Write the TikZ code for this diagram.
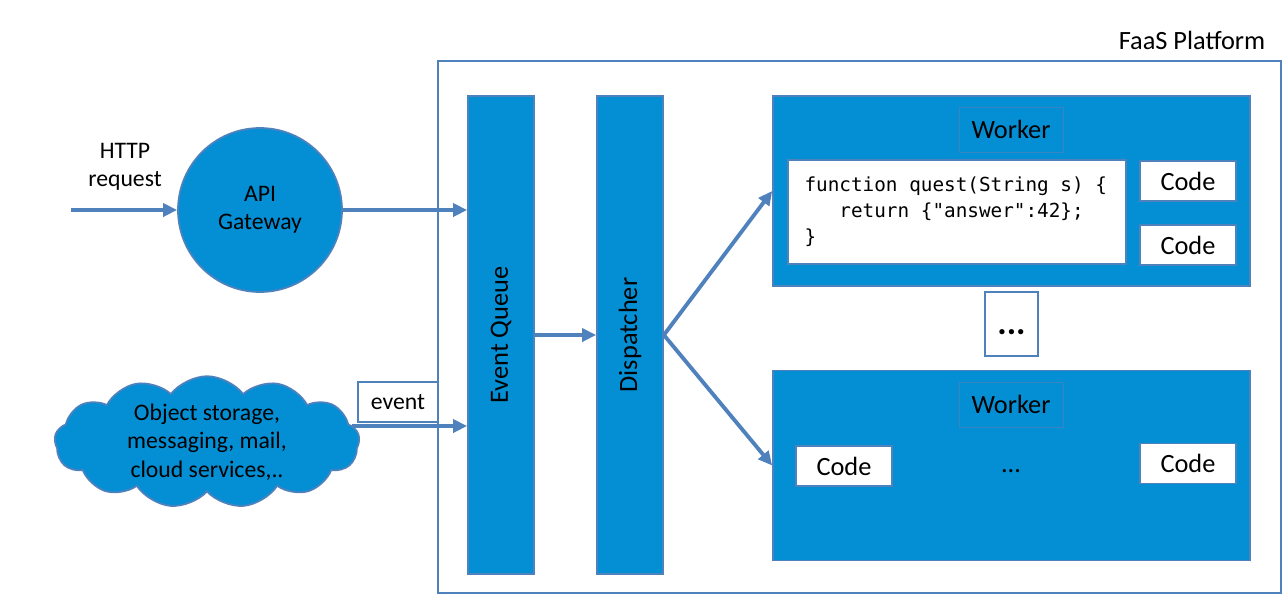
\documentclass[tikz,border=0pt]{standalone}
\usepackage{fontspec}
\setmainfont{Carlito}
\newfontfamily\codefont{DejaVu Sans Mono}
\newcommand\codesp{\hspace*{0.602em}}
\usepackage{tikz}
\usetikzlibrary{shapes.symbols,arrows.meta}

\definecolor{faasblue}{RGB}{4,143,212}
\definecolor{faasline}{RGB}{79,129,189}

\begin{document}
\begin{tikzpicture}[x=0.02cm,y=-0.02cm,
	>={Triangle[length=0.28cm,width=0.26cm]},
	every node/.style={font=\fontsize{13.5}{16.2}\selectfont},
	bluebox/.style={draw=faasline,fill=faasblue,line width=1pt,inner sep=0pt},
	whitebox/.style={draw=faasline,fill=white,line width=1pt,inner sep=0pt},
	bar/.style={bluebox,minimum width=1.32cm,minimum height=9.56cm,font=\fontsize{15}{18}\selectfont},
	worker/.style={bluebox,minimum width=9.54cm,minimum height=3.8cm},
	workerlabel/.style={draw=faasline!70!faasblue,line width=0.5pt,minimum width=2.08cm,minimum height=0.9cm,font=\fontsize{15}{18}\selectfont},
	code/.style={whitebox,minimum width=1.92cm,minimum height=0.8cm,font=\fontsize{15}{18}\selectfont},
	flow/.style={draw=faasline,line width=2.2pt,->}]
	\useasboundingbox (0,0) rectangle (1288,600);
	% platform frame
	\node[draw=faasline,line width=1pt,minimum width=16.86cm,minimum height=10.64cm] (faas) at (859.5,327) {};
	\node[font=\fontsize{15}{18}\selectfont] (faaslabel) at (1192,40) {FaaS Platform};
	\node[bar] (queue) at (501,335) {\rotatebox{90}{Event Queue}};
	\node[bar] (disp) at (630,335) {\rotatebox{90}{Dispatcher}};
	% workers
	\node[worker] (w1) at (1011.5,191) {};
	\node[workerlabel] (w1label) at (1011,129.5) {Worker};
	\node[whitebox,align=left,text width=6.1cm,inner xsep=0.33cm,minimum height=2.08cm,
		font=\codefont\fontsize{11}{14.8}\selectfont] (fn) at (957,212)
		{function\codesp quest(String\codesp s)\codesp\{\\\codesp\codesp\codesp return\codesp\{"answer":42\};\\\}};
	\node[code] (c1) at (1188,181) {Code};
	\node[code] (c2) at (1188,245) {Code};
	\node[whitebox,minimum width=1.06cm,minimum height=1.28cm,text height=0.44cm,
		font=\bfseries\fontsize{20}{24}\selectfont] (more) at (1011.5,324) {...};
	\node[worker] (w2) at (1011.5,465.5) {};
	\node[workerlabel] (w2label) at (1011,404.5) {Worker};
	\node[code] (c3) at (844,466) {Code};
	\node[code] (c4) at (1188,463.5) {Code};
	\node[font=\fontsize{15}{18}\selectfont] (wdots) at (1011,471) {...};
	% sources
	\node[align=center] (http) at (125,167) {HTTP\\request};
	\coordinate (src) at (71,210);
	\node[circle,bluebox,minimum size=3.28cm,align=center] (api) at (260,210) {API\\Gateway};
	\node[cloud,cloud puffs=13,cloud puff arc=105,cloud ignores aspect,draw=faasline,fill=faasblue,
		line width=1pt,inner sep=0pt,minimum width=6.1cm,minimum height=2.2cm,align=center] (cloud) at (207,442)
		{Object storage,\\messaging, mail,\\cloud services,..};
	\node[whitebox,minimum width=1.6cm,minimum height=0.8cm] (evlabel) at (398,402) {event};
	\coordinate (cloudout) at (352,426);
	% connectors
	\path (src) edge[flow] (api);
	\path (api) edge[flow] (api -| queue.west);
	\path (cloudout) edge[flow] (cloudout -| queue.west);
	\path (queue) edge[flow] (disp);
	\path (disp.east) edge[flow] (w1.west);
	\path (disp.east) edge[flow] (w2.west);
\end{tikzpicture}
\end{document}
